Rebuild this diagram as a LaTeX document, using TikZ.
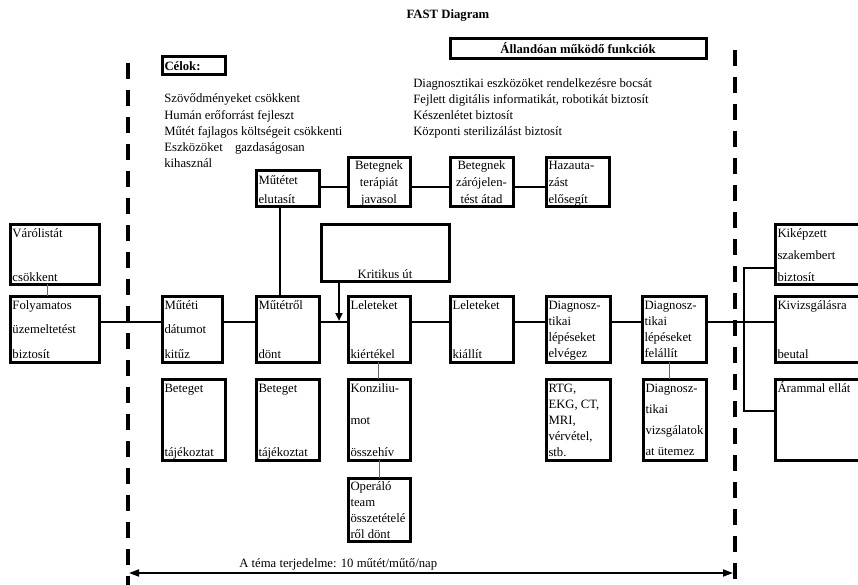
\documentclass[tikz,border=0pt]{standalone}
\usepackage{fontspec}
\setmainfont{Liberation Serif}
\usetikzlibrary{arrows.meta}
\newcommand{\mkbox}[5]{\node[bx,minimum width={#4-#2},minimum height={#5-#3}] (#1) at (#2,#3) {};}
\newcommand{\txl}[6]{\foreach \lbl [count=\i] in {#6}{\node[tx,anchor=#5] (#1-\i) at (#2,{#3+(\i-1)*#4}) {\lbl};}}
\begin{document}
\begin{tikzpicture}[x=1pt,y=-1pt,
 bx/.style={draw, line width=3pt, outer sep=0pt, inner sep=0pt, anchor=north west},
 tx/.style={inner sep=0pt, outer sep=0pt, font=\fontsize{12.7}{15}\selectfont},
 txb/.style={inner sep=0pt, outer sep=0pt, font=\fontsize{12.7}{15}\selectfont\bfseries},
 conn/.style={line width=2.6pt},
 thinl/.style={line width=0.9pt, black!60},
 dsh/.style={line width=3.5pt, dash pattern=on 16pt off 11pt}]
\useasboundingbox (0,0) rectangle (858,585);
\clip (0,0) rectangle (858,585);

% title
\node[txb,anchor=base] (title) at (448,18.3) {FAST Diagram};

% dashed scope lines
\coordinate (dl1) at (128,63);
\coordinate (dl2) at (128,590);
\coordinate (dr1) at (735,50);
\coordinate (dr2) at (735,590);
\draw[dsh] (dl1) -- (dl2);
\draw[dsh] (dr1) -- (dr2);

% headers
\mkbox{celok}{162}{57}{225}{75}
\node[txb,anchor=base west] (celokT) at (164.5,70.5) {Célok:};
\mkbox{allando}{450}{39}{706}{59}
\node[txb,anchor=base] (allandoT) at (578,53.3) {Állandóan működő funkciók};

\txl{obj}{164.3}{103}{16.2}{base west}{Szövődményeket csökkent,Humán erőforrást fejleszt,Műtét fajlagos költségeit csökkenti,Eszközöket,kihasznál}
\node[tx,anchor=base west] (objg) at (235,151.6) {gazdaságosan};

\txl{fn}{413.3}{87.3}{16}{base west}{Diagnosztikai eszközöket rendelkezésre bocsát,{Fejlett digitális informatikát, robotikát biztosít},Készenlétet biztosít,Központi sterilizálást biztosít}

% top row
\mkbox{elut}{256}{171}{319}{207}
\mkbox{terap}{348}{158}{410}{207}
\mkbox{zaro}{450}{158}{513}{207}
\mkbox{haza}{546}{158}{609}{207}
\txl{elutT}{258.5}{184.3}{19}{base west}{Műtétet,elutasít}
\txl{terapT}{379}{169.3}{17}{base}{Betegnek,terápiát,javasol}
\txl{zaroT}{481.5}{169.3}{17}{base}{Betegnek,zárójelen-,tést átad}
\txl{hazaT}{548.5}{169.3}{17}{base west}{Hazauta-,zást,elősegít}
\coordinate (topy) at (0,187);
\draw[conn] (elut.east|-topy) -- (terap.west|-topy);
\draw[conn] (terap.east|-topy) -- (zaro.west|-topy);
\draw[conn] (zaro.east|-topy) -- (haza.west|-topy);

% critical path
\mkbox{krit}{321}{224}{449}{281}
\node[tx,anchor=base] (kritT) at (385,278) {Kritikus út};
\coordinate (kritend) at (339,321);

% main row
\mkbox{fol}{10}{296}{99}{362}
\mkbox{varo}{10}{224}{99}{284}
\mkbox{datum}{162}{296}{222}{362}
\mkbox{dont}{256}{296}{319}{362}
\mkbox{kiert}{348}{296}{410}{362}
\mkbox{kiall}{450}{296}{513}{362}
\mkbox{elveg}{546}{296}{610}{362}
\mkbox{felall}{642}{296}{706}{362}
\mkbox{kikep}{775}{224}{880}{284}
\mkbox{kivizs}{775}{296}{880}{362}
\mkbox{aram}{775}{379}{880}{460}

\txl{folT}{12.5}{309}{24.5}{base west}{Folyamatos,üzemeltetést,biztosít}
\txl{varoT}{12.5}{237}{44}{base west}{Várólistát,csökkent}
\txl{datumT}{164.5}{309}{24.5}{base west}{Műtéti,dátumot,kitűz}
\txl{dontT}{258.5}{309}{49}{base west}{Műtétről,dönt}
\txl{kiertT}{350.5}{309}{49}{base west}{Leleteket,kiértékel}
\txl{kiallT}{452.5}{309}{49}{base west}{Leleteket,kiállít}
\txl{elvegT}{548.5}{309}{16.3}{base west}{Diagnosz-,tikai,lépéseket,elvégez}
\txl{felallT}{644.5}{309}{16.3}{base west}{Diagnosz-,tikai,lépéseket,felállít}
\txl{kikepT}{777.5}{237}{22}{base west}{Kiképzett,szakembert,biztosít}
\txl{kivizsT}{777.5}{309}{49}{base west}{Kivizsgálásra,beutal}
\node[tx,anchor=base west] (aramT) at (777.5,392) {Árammal ellát};

% bottom row
\mkbox{tajek1}{162}{379}{225}{460}
\mkbox{tajek2}{256}{379}{319}{460}
\mkbox{konz}{348}{379}{410}{460}
\mkbox{oper}{348}{478}{410}{541}
\mkbox{rtg}{546}{379}{610}{460}
\mkbox{utem}{643}{379}{706}{460}
\txl{tajek1T}{164.5}{392}{64}{base west}{Beteget,tájékoztat}
\txl{tajek2T}{258.5}{392}{64}{base west}{Beteget,tájékoztat}
\txl{konzT}{350.5}{392}{32}{base west}{Konziliu-,mot,összehív}
\txl{operT}{350.5}{490}{16}{base west}{Operáló,team,összetételé,ről dönt}
\txl{rtgT}{548.5}{392.7}{16}{base west}{{RTG,},{EKG, CT,},{MRI,},{vérvétel,},stb.}
\txl{utemT}{645.5}{392}{21.3}{base west}{Diagnosz-,tikai,vizsgálatok,at ütemez}

% main connectors
\coordinate (my) at (0,322);
\coordinate (bxl) at (744,0);
\coordinate (ky) at (0,268);
\coordinate (ay) at (0,411);
\draw[conn] (fol.east|-my) -- (datum.west|-my);
\draw[conn] (datum.east|-my) -- (dont.west|-my);
\draw[conn] (dont.east|-my) -- (kiert.west|-my);
\draw[conn] (kiert.east|-my) -- (kiall.west|-my);
\draw[conn] (kiall.east|-my) -- (elveg.west|-my);
\draw[conn] (elveg.east|-my) -- (felall.west|-my);
\draw[conn] (felall.east|-my) -- (kivizs.west|-my);
\draw[conn] (kikep.west|-ky) -- (bxl|-ky) -- (bxl|-ay) -- (aram.west|-ay);
\draw[conn] ([xshift=-7.5pt]elut.south) -- ([xshift=-7.5pt]dont.north);
\draw[line width=2pt,-{Triangle[length=8pt,width=7pt]}] ([xshift=-46pt]krit.south) -- (kritend);

% thin connectors
\draw[thinl] ([xshift=-7.5pt]varo.south) -- ([xshift=-7.5pt]fol.north);
\draw[thinl] ([xshift=-1pt]kiert.south) -- ([xshift=-1pt]konz.north);
\draw[thinl] (konz.south) -- (oper.north);
\draw[thinl] ([xshift=-5pt]felall.south) -- ([xshift=-5.5pt]utem.north);

% scope arrow
\coordinate (al) at (129,573);
\coordinate (ar) at (733,573);
\draw[line width=1.8pt,{Triangle[length=10pt,width=7pt]}-{Triangle[length=10pt,width=7pt]}] (al) -- (ar);
\node[tx,anchor=base west] (scopeT) at (239.3,567.3) {A téma terjedelme: 10 műtét/műtő/nap};
\end{tikzpicture}
\end{document}
